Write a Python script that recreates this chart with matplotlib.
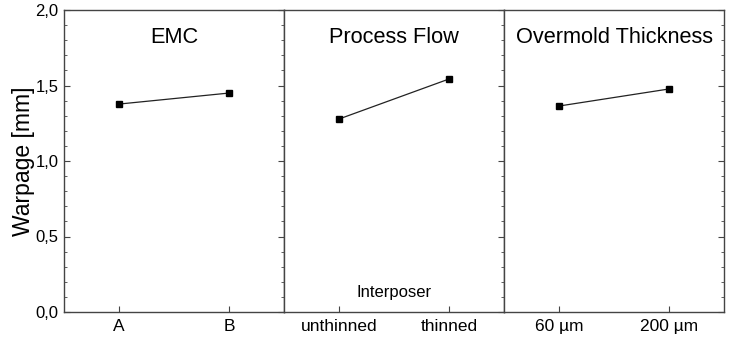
import matplotlib
matplotlib.use("Agg")
import matplotlib.pyplot as plt

plt.rcParams['font.family'] = ['Liberation Sans', 'DejaVu Sans']

panel_titles = ["EMC", "Process Flow", "Overmold Thickness"]
tick_labels = [["A", "B"], ["unthinned", "thinned"], ["60 µm", "200 µm"]]
warpage = [[1.377, 1.45], [1.278, 1.543], [1.364, 1.477]]
y_ticks = [0.0, 0.5, 1.0, 1.5, 2.0]
y_tick_labels = ["0,0", "0,5", "1,0", "1,5", "2,0"]

fig = plt.figure(figsize=(7.35, 3.42), dpi=100)
W, H = 735, 342
left, right, top, bottom = 64, 724, 10, 312
pw = (right - left) / 3
spine_c = "#444444"
for i in range(3):
    ax = fig.add_axes([(left + i * pw) / W, 1 - bottom / H, pw / W, (bottom - top) / H])
    ax.plot([0, 1], warpage[i], color="#222222", lw=0.9, marker="s", ms=4.5,
            mfc="black", mec="black")
    ax.set_xlim(-0.5, 1.5)
    ax.set_ylim(0, 2.0)
    ax.set_xticks([0, 1])
    ax.set_xticklabels(tick_labels[i], fontsize=12.5)
    ax.set_yticks(y_ticks)
    ax.set_yticks([v / 10 for v in range(21) if v % 5], minor=True)
    for s in ax.spines.values():
        s.set_color(spine_c)
        s.set_linewidth(1.0)
    ax.tick_params(axis="x", direction="in", length=4, color=spine_c, pad=5)
    ax.tick_params(axis="y", which="major", direction="in", length=4, color=spine_c,
                   right=True, left=(i == 0), labelleft=(i == 0), pad=4)
    ax.tick_params(axis="y", which="minor", direction="in", length=2.5, color=spine_c,
                   right=True, left=(i == 0))
    if i == 0:
        ax.set_yticklabels(y_tick_labels, fontsize=12)
        ax.set_ylabel("Warpage [mm]", fontsize=16.5, labelpad=0)
    ax.text(0.5, 0.91, panel_titles[i], transform=ax.transAxes, ha="center",
            va="center", fontsize=15.7)
    if i == 1:
        ax.text(0.5, 0.063, "Interposer", transform=ax.transAxes, ha="center",
                va="center", fontsize=12)

fig.savefig("out.png", dpi=100)
